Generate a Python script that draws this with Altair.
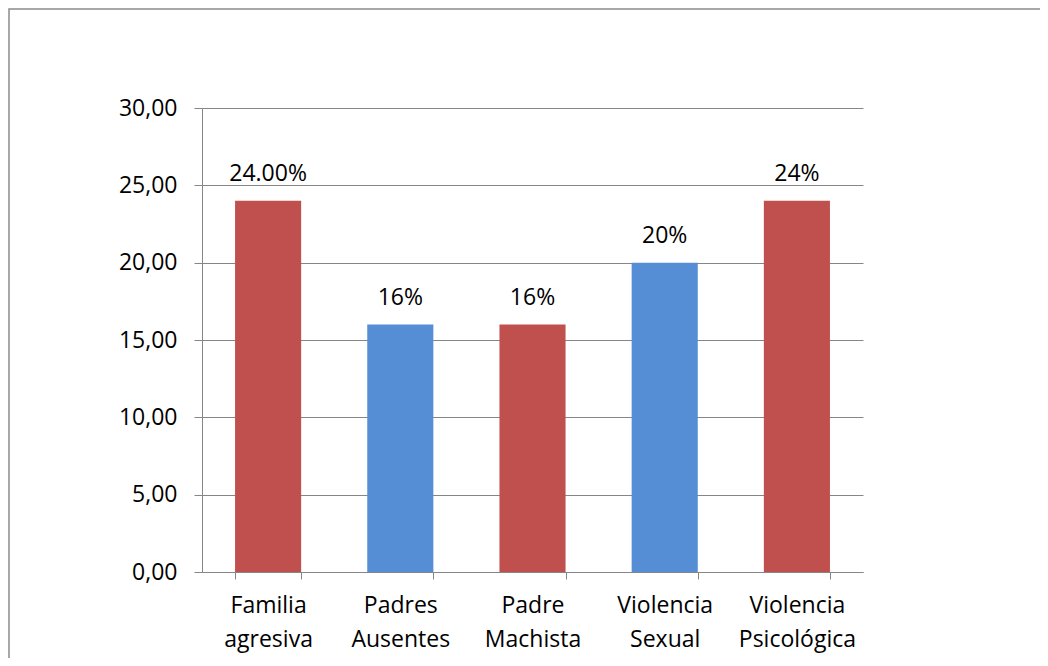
import altair as alt
import pandas as pd

categories = ["Familia agresiva", "Padres Ausentes", "Padre Machista", "Violencia Sexual", "Violencia Psicológica"]
values = [24, 16, 16, 20, 24]
labels = ["24.00%", "16%", "16%", "20%", "24%"]
groups = ["rojo", "azul", "rojo", "azul", "rojo"]
group_colors = ["#C0504D", "#558ED5"]
y_ticks = [0, 5, 10, 15, 20, 25, 30]

df = pd.DataFrame({"cat": categories, "val": values, "lab": labels, "grp": groups})

FONT = "Open Sans"
GRAY = "#868686"

x_enc = alt.X("cat:N", sort=categories, title=None,
              scale=alt.Scale(paddingInner=0.5, paddingOuter=0.25),
              axis=alt.Axis(labelAngle=0, labelExpr="split(datum.label, ' ')",
                            labelFont=FONT, labelFontSize=23, labelColor="black",
                            labelLineHeight=34, labelPadding=15, labelBaseline="top",
                            tickBand="extent", tickSize=7, tickColor=GRAY,
                            domainColor=GRAY, grid=False))
y_enc = alt.Y("val:Q", title=None,
              scale=alt.Scale(domain=[0, 30], nice=False),
              axis=alt.Axis(values=y_ticks, labelFont=FONT, labelFontSize=23,
                            labelColor="black", labelPadding=17, tickSize=8,
                            tickColor=GRAY, domainColor=GRAY, gridColor=GRAY,
                            labelExpr="replace(format(datum.value, '.2f'), '.', ',')"))

bars = alt.Chart(df).mark_bar().encode(
    x=x_enc, y=y_enc,
    color=alt.Color("grp:N", scale=alt.Scale(domain=["rojo", "azul"], range=group_colors), legend=None),
)

text = alt.Chart(df).mark_text(font=FONT, fontSize=23, color="black", dy=-20, baseline="alphabetic").encode(
    x=alt.X("cat:N", sort=categories), y="val:Q", text="lab:N"
)

border = alt.Chart(pd.DataFrame({"a": [0]})).mark_rect(fill=None, stroke="#8c8c8c", strokeWidth=1.5).encode(
    x=alt.value(-193), x2=alt.value(900), y=alt.value(-99), y2=alt.value(600)
)

chart = alt.layer(border, bars, text).properties(
    width=661, height=464,
    autosize=alt.AutoSizeParams(type="none"),
    padding={"left": 194, "top": 100, "right": 177, "bottom": 86},
).configure_view(stroke=None)

chart.save("out.html", embed_options={"renderer": "svg", "actions": False})
